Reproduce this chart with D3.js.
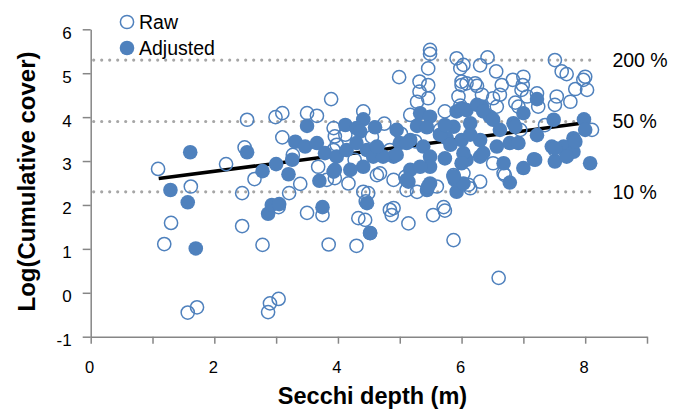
<!DOCTYPE html>
<html>
<head>
<meta charset="utf-8">
<script src="https://cdn.jsdelivr.net/npm/d3@7"></script>
<style>
  body { margin: 0; background: #fff; }
  svg { font-family: "Liberation Sans", Arial, sans-serif; }
</style>
</head>
<body>
<svg id="chart"></svg>
<script>
// Raw (open circles): secchi depth (m), log cumulative cover
var rawX = [1.09,1.19,1.30,1.62,1.57,1.72,2.19,2.45,2.45,2.53,2.49,2.65,2.78,2.87,2.90,3.04,3.04,2.99,3.10,3.10,
  3.21,3.39,3.50,3.66,3.68,3.89,3.93,3.95,3.50,3.75,3.85,3.27,3.95,4.17,4.41,4.49,4.63,4.90,5.09,5.28,
  5.87,4.33,4.44,4.84,4.90,4.87,5.14,5.54,5.71,5.73,5.87,6.60,4.30,4.52,4.45,3.98,5.49,5.49,5.46,4.99,
  5.32,5.46,5.32,5.46,5.28,5.73,5.17,4.41,5.92,5.98,6.00,6.08,5.95,6.00,6.25,6.33,5.98,6.42,6.30,6.56,
  6.65,6.62,6.51,6.57,6.83,7.00,6.99,6.97,6.92,7.22,7.06,7.51,7.62,7.70,7.54,7.76,7.84,8.00,7.97,8.03,
  6.03,6.22,6.87,7.24,7.51,8.11,3.93,4.68,5.11,5.60,6.11,6.30,6.51,6.68,6.14,6.70,7.51,6.03,4.12,4.27,
  4.84,5.65,6.95,7.35,3.82,4.55,5.02,5.25,4.75];
var rawY = [2.82,1.11,1.59,2.42,-0.45,-0.33,2.93,2.27,1.52,3.94,3.31,2.59,1.09,-0.44,-0.24,-0.14,1.95,4.00,4.09,3.54,
  2.27,2.48,4.09,4.03,2.87,4.41,3.75,3.56,1.82,1.77,1.10,3.14,2.61,2.49,2.30,2.27,2.68,2.57,2.64,2.30,
  2.68,1.70,1.66,1.89,1.93,1.77,1.58,1.77,1.95,1.87,1.20,0.34,1.07,1.36,2.08,3.37,5.53,5.44,5.11,4.91,
  4.81,4.73,4.58,4.43,4.35,4.13,4.05,4.13,5.34,5.11,4.81,4.77,4.47,4.73,4.71,4.51,4.26,5.36,5.18,5.04,
  4.73,4.51,4.43,4.24,4.85,4.92,4.73,4.62,4.24,4.54,4.47,5.30,5.04,4.98,4.47,4.35,4.64,4.92,4.85,4.62,
  5.19,4.77,4.33,4.24,4.28,3.71,3.25,2.72,2.34,2.42,2.46,2.53,2.95,2.72,2.38,2.68,3.25,2.72,3.60,3.03,
  3.25,3.71,3.71,3.82,2.57,3.55,3.62,3.45,3.85];

// Adjusted (filled circles)
var adjX = [1.29,1.61,1.57,1.70,2.53,2.78,3.00,3.20,3.26,3.31,3.47,3.50,3.66,3.70,3.79,3.93,3.75,2.87,2.93,3.05,
  4.47,4.52,4.12,4.41,4.30,4.60,4.95,5.33,5.49,5.28,5.44,5.92,6.00,6.08,5.87,6.14,6.33,6.46,6.25,6.35,
  6.51,7.22,7.00,7.49,7.98,8.00,6.84,7.81,7.22,8.08,7.46,7.65,7.81,7.84,7.51,7.70,7.17,7.00,6.78,6.68,
  6.87,5.17,5.38,5.49,5.49,5.49,5.44,5.17,5.14,4.90,5.00,4.36,4.47,4.41,4.57,4.73,3.98,3.95,4.20,4.14,
  5.73,5.76,4.30,4.63,4.95,5.11,5.11,5.33,5.46,5.89,5.92,6.00,6.08,6.30,6.57,6.78,6.92,7.19,6.03,7.51,
  6.30,5.87,6.03,6.00,6.35,5.65,5.82,6.14,6.62,5.73];
var adjY = [2.34,3.20,2.06,1.01,3.20,2.77,2.93,2.70,3.03,3.44,3.33,3.80,3.41,2.55,3.18,2.76,1.95,1.80,2.00,2.02,
  2.04,1.36,3.82,3.95,3.75,3.77,3.71,4.09,4.01,3.80,3.77,4.13,4.20,4.16,3.78,3.86,4.24,4.01,4.28,4.13,
  3.94,4.41,4.09,3.94,3.95,3.71,3.86,3.52,3.59,2.95,3.33,3.33,3.21,3.44,2.99,3.10,3.04,2.84,2.51,2.95,
  3.78,3.48,3.33,3.10,2.87,2.49,2.34,2.80,2.53,3.10,3.41,3.67,3.25,2.87,3.10,3.10,3.10,2.80,2.80,3.25,
  3.06,3.52,3.41,3.33,3.14,3.41,2.57,2.87,2.42,2.57,2.30,3.48,3.03,3.48,3.33,3.41,3.41,3.03,2.49,3.29,
  3.10,2.65,3.18,2.95,3.18,3.60,3.37,3.60,3.71,3.82];

// trend line end points
var trendX = [1.1, 8.0];
var trendY = [2.6, 3.87];

// reference levels (dotted) and their labels
var refY = [5.3, 3.9, 2.3];
var refLabels = ["200 %", "50 %", "10 %"];

var xTicks = [0, 1, 2, 3, 4, 5, 6, 7, 8, 9];
var xTickLabels = [0, 2, 4, 6, 8];
var yTicks = [-1, 0, 1, 2, 3, 4, 5, 6];

var seriesNames = ["Raw", "Adjusted"];

var dimensions = {
    width: 673,
    height: 410,
    margin: { top: 29.3, bottom: 73.3, left: 90.7, right: 26 }
};

var blue = "#4F81BD";
var axisGrey = "#868686";

var svg = d3.select("#chart")
    .attr("width", dimensions.width)
    .attr("height", dimensions.height);

var xScale = d3.scaleLinear()
    .domain([0, 9])
    .range([dimensions.margin.left, dimensions.width - dimensions.margin.right]);

var yScale = d3.scaleLinear()
    .domain([-1, 6])
    .range([dimensions.height - dimensions.margin.bottom, dimensions.margin.top]);

// dotted reference lines
svg.selectAll(".ref")
    .data(refY)
    .enter()
    .append("line")
    .attr("class", "ref")
    .attr("x1", xScale(0) + 3)
    .attr("x2", xScale(8.13))
    .attr("y1", d => yScale(d))
    .attr("y2", d => yScale(d))
    .attr("stroke", "#A6A6A6")
    .attr("stroke-width", 3.2)
    .attr("stroke-linecap", "round")
    .attr("stroke-dasharray", "0 8");

svg.selectAll(".refLabel")
    .data(refY)
    .enter()
    .append("text")
    .attr("class", "refLabel")
    .attr("x", xScale(8.44))
    .attr("y", d => yScale(d))
    .attr("dy", "0.35em")
    .attr("font-size", 19.5)
    .attr("fill", "#000")
    .text((d, i) => refLabels[i]);

// x axis
var xAxis = d3.axisBottom(xScale)
    .tickValues(xTicks)
    .tickSize(7)
    .tickSizeOuter(0)
    .tickFormat(d => xTickLabels.includes(d) ? String(d) : "");
var gx = svg.append("g")
    .attr("transform", `translate(0, ${yScale(-1)})`)
    .call(xAxis);
gx.select(".domain").attr("stroke", axisGrey).attr("stroke-width", 1.5);
gx.selectAll(".tick line").attr("stroke", axisGrey).attr("stroke-width", 1.5);
gx.selectAll(".tick text")
    .attr("font-size", 16.5)
    .attr("fill", "#000")
    .attr("x", -1.5)
    .attr("y", 36.6)
    .attr("dy", 0);

// y axis
var yAxis = d3.axisLeft(yScale)
    .tickValues(yTicks)
    .tickSize(8)
    .tickSizeOuter(0)
    .tickFormat(d => String(d));
var gy = svg.append("g")
    .attr("transform", `translate(${xScale(0)}, 0)`)
    .call(yAxis);
gy.select(".domain").attr("stroke", axisGrey).attr("stroke-width", 1.5);
gy.selectAll(".tick line").attr("stroke", axisGrey).attr("stroke-width", 1.5);
gy.selectAll(".tick text")
    .attr("font-size", 17)
    .attr("fill", "#000")
    .attr("x", -19)
    .attr("y", 3.5);

// axis titles
svg.append("text")
    .attr("x", 372.5)
    .attr("y", 404)
    .attr("text-anchor", "middle")
    .attr("font-size", 23.5)
    .attr("font-weight", "bold")
    .text("Secchi depth (m)");

svg.append("text")
    .attr("transform", "translate(35, 181.5) rotate(-90)")
    .attr("text-anchor", "middle")
    .attr("font-size", 24)
    .attr("font-weight", "bold")
    .text("Log(Cumulative cover)");

// trend line
svg.append("line")
    .attr("x1", xScale(trendX[0]))
    .attr("y1", yScale(trendY[0]))
    .attr("x2", xScale(trendX[1]))
    .attr("y2", yScale(trendY[1]))
    .attr("stroke", "#000")
    .attr("stroke-width", 3.5);

// raw points
svg.selectAll(".raw")
    .data(rawX.map((x, i) => [x, rawY[i]]))
    .enter()
    .append("circle")
    .attr("class", "raw")
    .attr("cx", d => xScale(d[0]))
    .attr("cy", d => yScale(d[1]))
    .attr("r", 6.6)
    .attr("fill", "none")
    .attr("stroke", blue)
    .attr("stroke-width", 1.5);

// adjusted points
svg.selectAll(".adj")
    .data(adjX.map((x, i) => [x, adjY[i]]))
    .enter()
    .append("circle")
    .attr("class", "adj")
    .attr("cx", d => xScale(d[0]))
    .attr("cy", d => yScale(d[1]))
    .attr("r", 7.3)
    .attr("fill", blue);

// legend
var legend = svg.append("g").attr("transform", "translate(127, 22)");
seriesNames.forEach(function(name, i) {
    var item = legend.append("g").attr("transform", `translate(0, ${i * 26})`);
    item.append("circle")
        .attr("r", i === 0 ? 6.6 : 7.3)
        .attr("fill", i === 0 ? "none" : blue)
        .attr("stroke", i === 0 ? blue : "none")
        .attr("stroke-width", 1.5);
    item.append("text")
        .attr("x", 12)
        .attr("dy", "0.36em")
        .attr("font-size", 19.5)
        .text(name);
});
</script>
</body>
</html>
